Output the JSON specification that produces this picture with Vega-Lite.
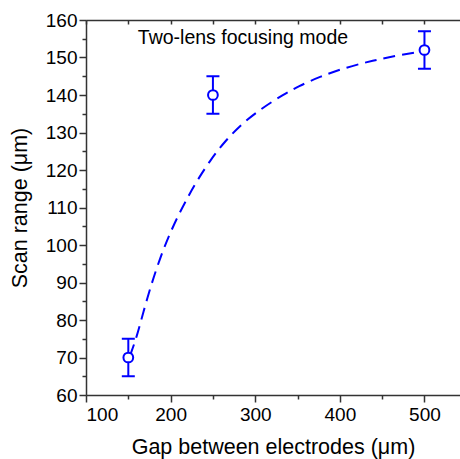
{
  "$schema": "https://vega.github.io/schema/vega-lite/v6.json",
  "width": 374,
  "height": 375,
  "autosize": {"type": "none"},
  "padding": {"left": 86, "top": 20, "right": 0, "bottom": 64},
  "background": "white",
  "config": {
    "view": {"stroke": null},
    "font": "Liberation Sans",
    "axis": {
      "domainColor": "#333333",
      "domainWidth": 1.5,
      "tickColor": "#333333",
      "tickWidth": 1.5,
      "labelFont": "Liberation Sans",
      "labelFontSize": 19,
      "labelColor": "black",
      "titleFont": "Liberation Sans",
      "titleFontSize": 21.5,
      "titleFontWeight": "normal",
      "titleColor": "black",
      "grid": false
    }
  },
  "datasets": {
    "points": [
      {"gap": 150, "range": 70, "lo": 65, "hi": 75},
      {"gap": 250, "range": 140, "lo": 135, "hi": 145},
      {"gap": 500, "range": 152, "lo": 147, "hi": 157}
    ],
    "curve": [
      {"gap": 152, "range": 70.5},
      {"gap": 159.9, "range": 75.4},
      {"gap": 167.7, "range": 82.1},
      {"gap": 177.6, "range": 89.8},
      {"gap": 187.4, "range": 96.4},
      {"gap": 197.2, "range": 102.1},
      {"gap": 209.0, "range": 107.9},
      {"gap": 219.0, "range": 112.2},
      {"gap": 230.8, "range": 117.0},
      {"gap": 246.5, "range": 122.5},
      {"gap": 264.2, "range": 127.7},
      {"gap": 285.8, "range": 132.7},
      {"gap": 309.5, "range": 136.7},
      {"gap": 333.1, "range": 140.1},
      {"gap": 350.8, "range": 142.3},
      {"gap": 376.4, "range": 144.9},
      {"gap": 408.0, "range": 147.4},
      {"gap": 439.5, "range": 149.2},
      {"gap": 467.0, "range": 150.5},
      {"gap": 500.0, "range": 151.7}
    ]
  },
  "resolve": {"axis": {"x": "independent", "y": "independent"}},
  "layer": [
    {
      "data": {"name": "curve"},
      "mark": {"type": "line", "color": "#0000ff", "strokeWidth": 2, "strokeDash": [12, 7], "interpolate": "basis"},
      "encoding": {
        "x": {"field": "gap", "type": "quantitative", "scale": {"domain": [100, 542], "nice": false, "zero": false},
          "axis": {"orient": "bottom", "values": [100, 200, 300, 400, 500], "tickSize": 7, "labelPadding": 3, "title": "Gap between electrodes (μm)", "titlePadding": 12}},
        "y": {"field": "range", "type": "quantitative", "scale": {"domain": [60, 160], "nice": false, "zero": false},
          "axis": {"orient": "left", "values": [60, 70, 80, 90, 100, 110, 120, 130, 140, 150, 160], "tickSize": 7, "labelPadding": 2, "title": "Scan range (μm)", "titlePadding": 14}}
      }
    },
    {
      "data": {"name": "points"},
      "mark": {"type": "rule", "color": "#0000ff", "strokeWidth": 2},
      "encoding": {
        "x": {"field": "gap", "type": "quantitative",
          "axis": {"orient": "bottom", "values": [150, 250, 350, 450], "tickSize": 4, "labels": false, "domain": false, "title": null}},
        "y": {"field": "lo", "type": "quantitative",
          "axis": {"orient": "left", "values": [65, 75, 85, 95, 105, 115, 125, 135, 145, 155], "tickSize": 4, "labels": false, "domain": false, "title": null}},
        "y2": {"field": "hi"}
      }
    },
    {
      "data": {"name": "points"},
      "mark": {"type": "point", "shape": "M-1,0L1,0", "filled": false, "color": "#0000ff", "strokeWidth": 2, "size": 169, "opacity": 1},
      "encoding": {
        "x": {"field": "gap", "type": "quantitative",
          "axis": {"orient": "top", "values": [100, 150, 200, 250, 300, 350, 400, 450, 500], "tickSize": -4, "labels": false, "title": null}},
        "y": {"field": "lo", "type": "quantitative", "axis": null}
      }
    },
    {
      "data": {"name": "points"},
      "mark": {"type": "point", "shape": "M-1,0L1,0", "filled": false, "color": "#0000ff", "strokeWidth": 2, "size": 169, "opacity": 1},
      "encoding": {
        "x": {"field": "gap", "type": "quantitative", "axis": null},
        "y": {"field": "hi", "type": "quantitative", "axis": null}
      }
    },
    {
      "data": {"name": "points"},
      "mark": {"type": "point", "shape": "circle", "filled": false, "fill": "white", "color": "#0000ff", "strokeWidth": 2, "size": 95, "opacity": 1, "fillOpacity": 1},
      "encoding": {
        "x": {"field": "gap", "type": "quantitative", "axis": null},
        "y": {"field": "range", "type": "quantitative", "axis": null}
      }
    },
    {
      "data": {"values": [{"label": "Two-lens focusing mode"}]},
      "mark": {"type": "text", "font": "Liberation Sans", "fontSize": 19.5, "color": "black", "align": "center", "baseline": "alphabetic"},
      "encoding": {
        "x": {"datum": 285.5, "type": "quantitative", "axis": null},
        "y": {"datum": 153.7, "type": "quantitative", "axis": null},
        "text": {"field": "label"}
      }
    }
  ]
}
